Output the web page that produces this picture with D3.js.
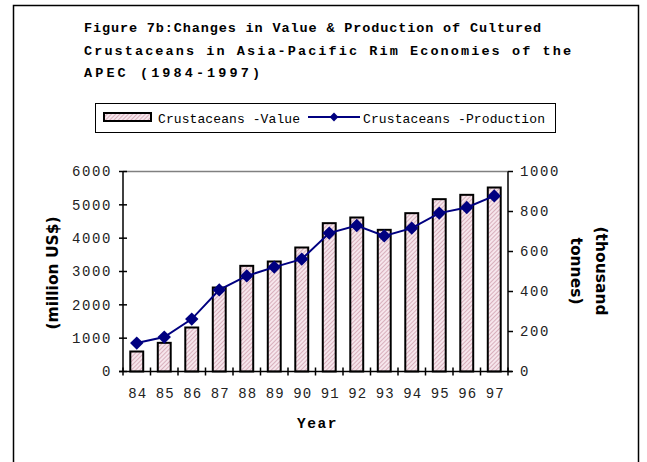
<!DOCTYPE html>
<html>
<head>
<meta charset="utf-8">
<script src="https://cdn.jsdelivr.net/npm/d3@7"></script>
<style>
  body { margin: 0; background: #fff; }
  svg { display: block; }
</style>
</head>
<body>
<svg width="647" height="462"></svg>
<script>
// data
var years = ["84", "85", "86", "87", "88", "89", "90", "91", "92", "93", "94", "95", "96", "97"];
var valueData = [600, 860, 1320, 2520, 3170, 3300, 3720, 4450, 4620, 4250, 4750, 5170, 5300, 5520];
var productionData = [142, 172, 262, 408, 478, 522, 562, 692, 730, 678, 717, 792, 820, 878];
var leftTicks = [0, 1000, 2000, 3000, 4000, 5000, 6000];
var rightTicks = [0, 200, 400, 600, 800, 1000];
var titleLines = [
  "Figure 7b:Changes in Value & Production of Cultured",
  "Crustaceans in Asia-Pacific Rim Economies of the",
  "APEC (1984-1997)"
];

var svg = d3.select("svg");
var mono = "'Liberation Mono', 'Courier New', monospace";
var heavy = "'DejaVu Sans', Verdana, sans-serif";

var plot = { left: 123, right: 508, top: 171.5, bottom: 371.5 };

// hatched fill for the bars
var pat = svg.append("defs").append("pattern")
    .attr("id", "hatch")
    .attr("patternUnits", "userSpaceOnUse")
    .attr("width", 3).attr("height", 3)
    .attr("patternTransform", "rotate(45)");
pat.append("rect").attr("width", 3).attr("height", 3).attr("fill", "#f6e6ec");
pat.append("line").attr("x1", 0).attr("y1", 0).attr("x2", 0).attr("y2", 3)
    .attr("stroke", "#c48a9c").attr("stroke-width", 1.2);

// outer frame
svg.append("rect")
    .attr("x", 13.5).attr("y", 5.5)
    .attr("width", 625).attr("height", 470)
    .attr("fill", "none").attr("stroke", "#000").attr("stroke-width", 1.5);

// title
svg.append("g").selectAll("text")
    .data(titleLines)
    .enter().append("text")
    .attr("x", 84)
    .attr("y", function(d, i) { return 32 + i * 22.5; })
    .attr("font-family", mono)
    .attr("font-weight", "bold")
    .attr("font-size", 13.5)
    .attr("textLength", function(d, i) { return [457, 487, 176][i]; })
    .attr("lengthAdjust", "spacing")
    .text(function(d) { return d; });

// scales
var x = d3.scaleBand().domain(years).range([plot.left, plot.right]).padding(0);
var yL = d3.scaleLinear().domain([0, 6000]).range([plot.bottom, plot.top]);
var yR = d3.scaleLinear().domain([0, 1000]).range([plot.bottom, plot.top]);
var barW = x.bandwidth() * 0.47;

// top gridline
svg.append("line")
    .attr("x1", plot.left).attr("x2", plot.right)
    .attr("y1", yL(6000)).attr("y2", yL(6000))
    .attr("stroke", "#808080").attr("stroke-width", 1.5);

// bars
svg.append("g").selectAll("rect")
    .data(valueData)
    .enter().append("rect")
    .attr("x", function(d, i) { return x(years[i]) + (x.bandwidth() - barW) / 2; })
    .attr("y", function(d) { return yL(d); })
    .attr("width", barW)
    .attr("height", function(d) { return yL(0) - yL(d); })
    .attr("fill", "url(#hatch)")
    .attr("stroke", "#000")
    .attr("stroke-width", 2);

// axes lines
var axisG = svg.append("g").attr("stroke", "#000").attr("stroke-width", 1.5);
axisG.append("line").attr("x1", plot.left).attr("x2", plot.left).attr("y1", plot.top).attr("y2", plot.bottom);
axisG.append("line").attr("x1", plot.right).attr("x2", plot.right).attr("y1", plot.top).attr("y2", plot.bottom);
axisG.append("line").attr("x1", plot.left - 4).attr("x2", plot.right + 4).attr("y1", plot.bottom).attr("y2", plot.bottom);

// left ticks + labels
axisG.selectAll(".lt").data(leftTicks).enter().append("line")
    .attr("x1", plot.left - 4).attr("x2", plot.left + 4)
    .attr("y1", function(d) { return yL(d); }).attr("y2", function(d) { return yL(d); });
svg.append("g").selectAll("text").data(leftTicks).enter().append("text")
    .attr("x", 112)
    .attr("y", function(d) { return yL(d); })
    .attr("dy", "0.35em")
    .attr("text-anchor", "end")
    .attr("font-family", mono).attr("font-size", 14)
    .attr("letter-spacing", 1.6)
    .attr("fill", "#222")
    .text(function(d) { return d; });

// right ticks + labels
axisG.selectAll(".rt").data(rightTicks).enter().append("line")
    .attr("x1", plot.right).attr("x2", plot.right + 5)
    .attr("y1", function(d) { return yR(d); }).attr("y2", function(d) { return yR(d); });
svg.append("g").selectAll("text").data(rightTicks).enter().append("text")
    .attr("x", 520)
    .attr("y", function(d) { return yR(d); })
    .attr("dy", "0.35em")
    .attr("font-family", mono).attr("font-size", 14)
    .attr("letter-spacing", 1.6)
    .attr("fill", "#222")
    .text(function(d) { return d; });

// x ticks at category boundaries
var bounds = years.map(function(d) { return x(d); }).concat([plot.right]);
axisG.selectAll(".xt").data(bounds).enter().append("line")
    .attr("x1", function(d) { return d; }).attr("x2", function(d) { return d; })
    .attr("y1", plot.bottom - 4).attr("y2", plot.bottom + 4);
svg.append("g").selectAll("text").data(years).enter().append("text")
    .attr("x", function(d) { return x(d) + x.bandwidth() / 2 + 1; })
    .attr("y", 398)
    .attr("text-anchor", "middle")
    .attr("font-family", mono).attr("font-size", 14)
    .attr("letter-spacing", 1)
    .attr("fill", "#222")
    .text(function(d) { return d; });

// production line
var line = d3.line()
    .x(function(d, i) { return x(years[i]) + x.bandwidth() / 2; })
    .y(function(d) { return yR(d); });
svg.append("path")
    .datum(productionData)
    .attr("d", line)
    .attr("fill", "none")
    .attr("stroke", "#000080")
    .attr("stroke-width", 2);
var diamond = d3.symbol().type(d3.symbolDiamond2).size(115);
svg.append("g").selectAll("path").data(productionData).enter().append("path")
    .attr("transform", function(d, i) { return "translate(" + (x(years[i]) + x.bandwidth() / 2) + "," + yR(d) + ")"; })
    .attr("d", diamond)
    .attr("fill", "#000080");

// axis titles
svg.append("text")
    .attr("x", (plot.left + plot.right) / 2 + 2)
    .attr("y", 428)
    .attr("text-anchor", "middle")
    .attr("font-family", mono).attr("font-weight", "bold").attr("font-size", 14.5)
    .attr("letter-spacing", 1.5)
    .text("Year");

svg.append("text")
    .attr("transform", "translate(58,273) rotate(-90)")
    .attr("text-anchor", "middle")
    .attr("font-family", heavy)
    .attr("font-weight", "bold").attr("font-size", 15.5)
    .text("(million US$)");

svg.append("text")
    .attr("transform", "translate(596,271) rotate(90)")
    .attr("text-anchor", "middle")
    .attr("font-family", heavy)
    .attr("font-weight", "bold").attr("font-size", 15.5)
    .text("(thousand");
svg.append("text")
    .attr("transform", "translate(571,271) rotate(90)")
    .attr("text-anchor", "middle")
    .attr("font-family", heavy)
    .attr("font-weight", "bold").attr("font-size", 15.5)
    .text("tonnes)");

// legend
var lg = svg.append("g");
lg.append("rect")
    .attr("x", 95.5).attr("y", 103.5).attr("width", 460).attr("height", 29)
    .attr("fill", "#fff").attr("stroke", "#000").attr("stroke-width", 1);
lg.append("rect")
    .attr("x", 104).attr("y", 113).attr("width", 47).attr("height", 8)
    .attr("fill", "url(#hatch)").attr("stroke", "#000").attr("stroke-width", 2);
lg.append("text")
    .attr("x", 158).attr("y", 118).attr("dy", "0.35em")
    .attr("font-family", mono).attr("font-size", 13)
    .attr("textLength", 142).attr("lengthAdjust", "spacing")
    .text("Crustaceans -Value");
lg.append("line")
    .attr("x1", 308).attr("x2", 360).attr("y1", 117).attr("y2", 117)
    .attr("stroke", "#000080").attr("stroke-width", 2);
lg.append("path")
    .attr("transform", "translate(334,117)")
    .attr("d", d3.symbol().type(d3.symbolDiamond2).size(50))
    .attr("fill", "#000080");
lg.append("text")
    .attr("x", 363).attr("y", 118).attr("dy", "0.35em")
    .attr("font-family", mono).attr("font-size", 13)
    .attr("textLength", 182).attr("lengthAdjust", "spacing")
    .text("Crustaceans -Production");
</script>
</body>
</html>
